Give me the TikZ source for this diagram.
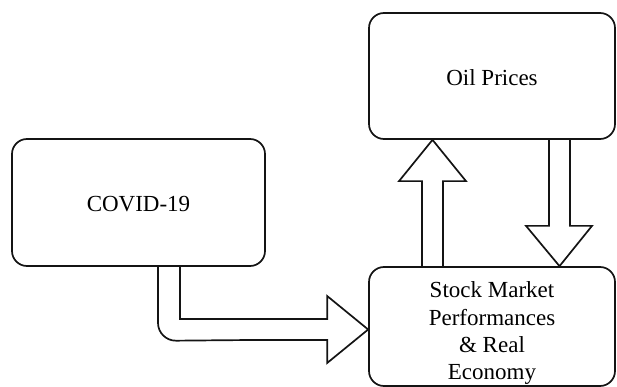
\documentclass[tikz,border=0pt]{standalone}
\usepackage{fontspec}
\setmainfont{Liberation Serif}
\usetikzlibrary{calc}
\definecolor{plantucolor0001}{RGB}{20,20,20}
\begin{document}
\begin{tikzpicture}[yscale=-1
,pstyle0/.style={draw=plantucolor0001,fill=white,line width=1.7pt,rounded corners=15pt,align=center,font=\fontsize{23}{27.4}\selectfont,inner sep=0}
,pstyle1/.style={color=plantucolor0001,line width=1.7pt,line join=miter}
]
\useasboundingbox (0pt,0pt) rectangle (617pt,387pt);
\node[pstyle0,minimum width=253pt,minimum height=127pt] (covid) at (138.5pt,202.5pt) {\raisebox{-9.2pt}[0pt][0pt]{COVID-19}};
\node[pstyle0,minimum width=246pt,minimum height=126pt] (oil) at (492pt,76pt) {\raisebox{-10pt}[0pt][0pt]{Oil Prices}};
\node[pstyle0,minimum width=246pt,minimum height=119pt] (stock) at (492pt,326.5pt) {\raisebox{28.8pt}[0pt][0pt]{\begin{tabular}[t]{@{}c@{}}Stock Market\\Performances\\\& Real\\Economy\end{tabular}}};
\draw[pstyle1] ($(covid.south)+(19.5pt,0)$) [rounded corners=18pt] -- ($(covid.south)+(19.5pt,74pt)$) -- ($(stock.west)+(-120pt,13.5pt)$) [sharp corners] -- ($(stock.west)+(-41pt,13.5pt)$) -- ++(0,23pt) -- ($(stock.west)+(0,3pt)$) -- ($(stock.west)+(-41pt,-30.5pt)$) -- ++(0,23pt) -| ($(covid.south)+(41.5pt,0)$);
\draw[pstyle1] ($(stock.north)+(-70pt,0)$) -- ++(0,-85pt) -- ++(-23pt,0) -- ($(oil.south)+(-59.5pt,0)$) -- ($(stock.north)+(-26pt,-85pt)$) -- ++(-23pt,0) -- ($(stock.north)+(-49pt,0)$);
\draw[pstyle1] ($(oil.south)+(57pt,0)$) -- ++(0,86pt) -- ++(-23pt,0) -- ($(stock.north)+(67.5pt,0)$) -- ($(oil.south)+(100pt,86pt)$) -- ++(-22pt,0) -- ($(oil.south)+(78pt,0)$);
\end{tikzpicture}
\end{document}
